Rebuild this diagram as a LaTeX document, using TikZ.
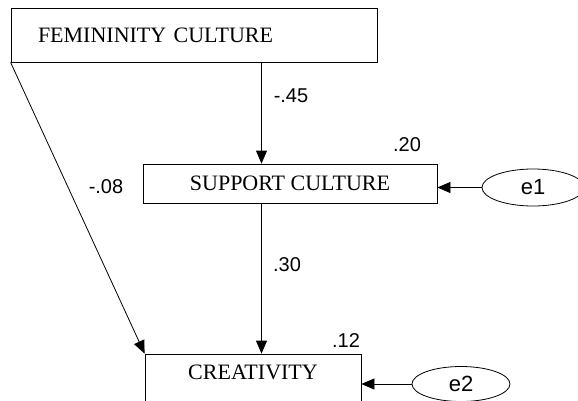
\documentclass[tikz,border=0pt]{standalone}
\usepackage{fontspec}
\setmainfont{Liberation Serif}
\newfontfamily\labfont{Liberation Sans}
\usetikzlibrary{arrows.meta,shapes.geometric}
\tikzset{
  varbox/.style={draw, line width=0.8pt, rectangle, inner sep=0pt,
    font=\fontsize{22}{26}\selectfont},
  errell/.style={draw, line width=0.8pt, ellipse, inner sep=0pt,
    font=\labfont\fontsize{22}{26}\selectfont},
  coef/.style={font=\labfont\fontsize{20}{24}\selectfont, inner sep=0pt},
  arr/.style={line width=0.8pt, -{Triangle[length=13pt,width=11pt]}}
}
\begin{document}
\begin{tikzpicture}[x=1pt,y=-1pt]
\clip (0,0) rectangle (578,400);
\fill[white] (0,0) rectangle (578,400);
% variables
\node[varbox, minimum width=366pt, minimum height=54pt, text width=312pt,
      inner xsep=27pt, align=left] (fem) at (194,35) {FEMININITY CULTURE};
\node[varbox, minimum width=294pt, minimum height=39pt] (sup) at (290,183.5) {SUPPORT CULTURE};
\node[varbox, minimum width=216pt, minimum height=62pt, align=center] (cre) at (253,385) {CREATIVITY\\\mbox{}};
% errors
\node[errell, minimum width=102pt, minimum height=37pt] (e1) at (533,187.5) {e1};
\node[errell, minimum width=98pt, minimum height=35pt] (e2) at (461,384) {e2};
% connectors
\coordinate (vx) at (261.5,0);
\draw[arr] (vx |- fem.south) -- (vx |- sup.north);
\draw[arr] (vx |- sup.south) -- (vx |- cre.north);
\draw[arr] (fem.south west) -- (cre.north west);
\draw[arr] (e1.west) -- (e1.west -| sup.east);
\draw[arr] (e2.west) -- (e2.west -| cre.east);
% coefficients
\node[coef] (c45) at (291,96) {-.45};
\node[coef] (c20) at (407,145) {.20};
\node[coef] (c08) at (106,187) {-.08};
\node[coef] (c30) at (287,265) {.30};
\node[coef] (c12) at (346,341) {.12};
\end{tikzpicture}
\end{document}
